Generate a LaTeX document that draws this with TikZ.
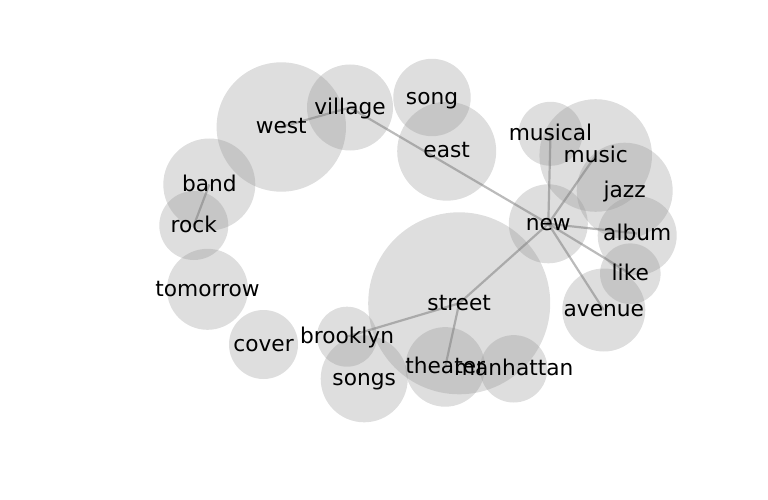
\documentclass[tikz,border=0pt]{standalone}
\usepackage{fontspec}
\setmainfont{DejaVu Sans}
\definecolor{bubble}{RGB}{145,145,145}
\definecolor{edgecol}{RGB}{120,120,120}
\begin{document}
\begin{tikzpicture}[x=1pt,y=-1pt,
  bub/.style={fill=bubble,fill opacity=0.3,draw=none},
  lbl/.style={font=\fontsize{21.7}{26}\selectfont,inner sep=0pt,text=black,text height=17pt,text depth=3.5pt},
  edge/.style={draw=edgecol,opacity=0.5,line width=2.2pt}]
\useasboundingbox (0,0) rectangle (768,500);
% circles
\fill[bub] (281.3,127) circle (64.7);
\fill[bub] (350,107.5) circle (43);
\fill[bub] (432,97.5) circle (38.7);
\fill[bub] (446.7,151.2) circle (49.5);
\fill[bub] (209.3,184.5) circle (46);
\fill[bub] (193.8,225.5) circle (34.5);
\fill[bub] (207.5,289.3) circle (40.5);
\fill[bub] (263.5,344.5) circle (34.5);
\fill[bub] (347,336.7) circle (30);
\fill[bub] (364.2,378.8) circle (43.5);
\fill[bub] (459.2,303.3) circle (91);
\fill[bub] (445.2,366.9) circle (39.8);
\fill[bub] (513.7,368.8) circle (33.7);
\fill[bub] (548.3,223.8) circle (39.5);
\fill[bub] (550.5,133.8) circle (32);
\fill[bub] (595.7,155.5) circle (56.3);
\fill[bub] (624.7,190.7) circle (48);
\fill[bub] (637.2,235.5) circle (39.5);
\fill[bub] (630.3,273.7) circle (30.3);
\fill[bub] (603.8,310) circle (41.5);
% nodes
\coordinate (west) at (281.3,127);
\coordinate (village) at (350,107.5);
\coordinate (song) at (432,97.5);
\coordinate (east) at (446.7,151.2);
\coordinate (band) at (209.3,184.5);
\coordinate (rock) at (193.8,225.5);
\coordinate (tomorrow) at (207.5,289.3);
\coordinate (cover) at (263.5,344.5);
\coordinate (brooklyn) at (347,336.7);
\coordinate (songs) at (364.2,378.8);
\coordinate (street) at (459.2,303.3);
\coordinate (theater) at (445.2,366.9);
\coordinate (manhattan) at (513.7,368.8);
\coordinate (new) at (548.3,223.8);
\coordinate (musical) at (550.5,133.8);
\coordinate (music) at (595.7,155.5);
\coordinate (jazz) at (624.7,190.7);
\coordinate (album) at (637.2,233.5);
\coordinate (like) at (630.3,273.7);
\coordinate (avenue) at (603.8,310);
% edges
\draw[edge] (west) -- (village);
\draw[edge] (village) -- (new);
\draw[edge] (band) -- (rock);
\draw[edge] (new) -- (musical);
\draw[edge] (new) -- (music);
\draw[edge] (new) -- (album);
\draw[edge] (new) -- (like);
\draw[edge] (new) -- (avenue);
\draw[edge] (new) -- (street);
\draw[edge] (street) -- (brooklyn);
\draw[edge] (street) -- (theater);
% labels
\node[lbl] (twest) at (west) {west};
\node[lbl] (tvillage) at (village) {village};
\node[lbl] (tsong) at (song) {song};
\node[lbl] (teast) at (east) {east};
\node[lbl] (tband) at (band) {band};
\node[lbl] (trock) at (rock) {rock};
\node[lbl] (ttomorrow) at (tomorrow) {tomorrow};
\node[lbl] (tcover) at (cover) {cover};
\node[lbl] (tbrooklyn) at (brooklyn) {brooklyn};
\node[lbl] (tsongs) at (songs) {songs};
\node[lbl] (tstreet) at (street) {street};
\node[lbl] (ttheater) at (theater) {theater};
\node[lbl] (tmanhattan) at (manhattan) {manhattan};
\node[lbl] (tnew) at (new) {new};
\node[lbl] (tmusical) at (musical) {musical};
\node[lbl] (tmusic) at (music) {music};
\node[lbl] (tjazz) at (jazz) {jazz};
\node[lbl] (talbum) at (album) {album};
\node[lbl] (tlike) at (like) {like};
\node[lbl] (tavenue) at (avenue) {avenue};
\end{tikzpicture}
\end{document}
